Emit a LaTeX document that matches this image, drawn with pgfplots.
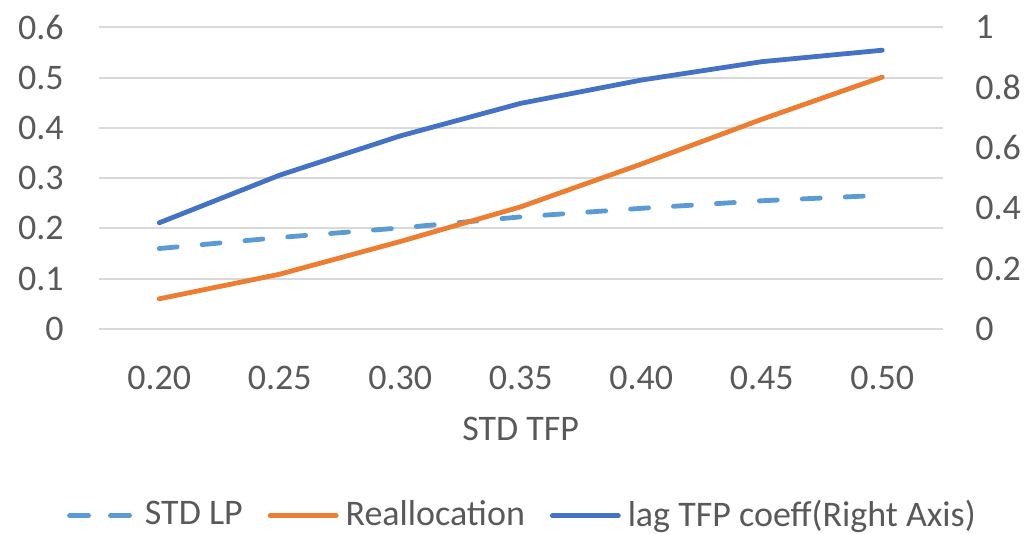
\documentclass[border=0pt]{standalone}
\usepackage{pgfplots}
\pgfplotsset{compat=1.18}
\usepackage{fontspec}
\setmainfont{Carlito}
\definecolor{cdark}{HTML}{4472C4}
\definecolor{corange}{HTML}{ED7D31}
\definecolor{clight}{HTML}{5B9BD5}
\definecolor{cgrid}{HTML}{D9D9D9}
\definecolor{ctext}{HTML}{595959}
\begin{document}
\fontsize{18}{21.6}\selectfont
\begin{tikzpicture}
\useasboundingbox (0,0) rectangle (514pt,267pt);
\pgfplotsset{
  base/.style={
    at={(49.5pt,102.5pt)}, anchor=south west,
    scale only axis, width=421.75pt, height=150.85pt,
    xmin=-0.5, xmax=6.5,
    xtick={0,...,6},
    xticklabels={0.20,0.25,0.30,0.35,0.40,0.45,0.50},
    major tick length=0pt,
    axis line style={draw=none},
    tick label style={font=\fontsize{18}{21.6}\selectfont, text=ctext, inner sep=0pt},
    /pgf/number format/assume math mode=true,
    label style={font=\fontsize{18}{21.6}\selectfont, text=ctext},
  },
}
\begin{axis}[base,
  ymin=0, ymax=0.6, ytick={0,0.1,...,0.6},
  yticklabels={0,0.1,0.2,0.3,0.4,0.5,0.6},
  ymajorgrids, grid style={cgrid, line width=1pt},
  xticklabel style={anchor=base, yshift=-30.5pt},
  yticklabel style={anchor=east, xshift=-17.5pt},
  xlabel={STD TFP},
  xlabel style={at={(axis description cs:0.5,0)}, anchor=base, yshift=-56pt},
]
\addplot[clight, line width=2.4pt, line cap=round, dash pattern=on 9pt off 12.5pt] coordinates {
  (0,0.160) (1,0.182) (2,0.201) (3,0.223) (4,0.240) (5,0.255) (6,0.266)};
\addplot[corange, line width=2.4pt, line cap=round, line join=round] coordinates {
  (0,0.060) (1,0.109) (2,0.174) (3,0.243) (4,0.328) (5,0.417) (6,0.501)};
\end{axis}
\begin{axis}[base,
  ymin=0, ymax=1, ytick={0,0.2,...,1},
  yticklabels={0,0.2,0.4,0.6,0.8,1},
  axis y line*=right, axis x line=none,
  yticklabel style={anchor=west, xshift=16.25pt},
  legend columns=3,
  legend style={at={(0.505,-0.619)}, anchor=center, draw=none, fill=none,
    font=\fontsize{18}{21.6}\selectfont, text=ctext,
    /tikz/every even column/.append style={column sep=9pt},
    nodes={inner xsep=3.5pt, inner ysep=0pt}},
  legend image code/.code={\draw[#1] (0pt,0pt) -- (33pt,0pt);},
]
\addlegendimage{clight, line width=2.4pt, line cap=round, dash pattern=on 9.5pt off 11pt}
\addlegendentry{STD LP}
\addlegendimage{corange, line width=2.4pt, line cap=round}
\addlegendentry{Reallocation}
\addplot[cdark, line width=2.4pt, line cap=round, line join=round] coordinates {
  (0,0.352) (1,0.510) (2,0.640) (3,0.748) (4,0.825) (5,0.886) (6,0.924)};
\addlegendentry{lag TFP coeff(Right Axis)}
\end{axis}
\end{tikzpicture}
\end{document}
